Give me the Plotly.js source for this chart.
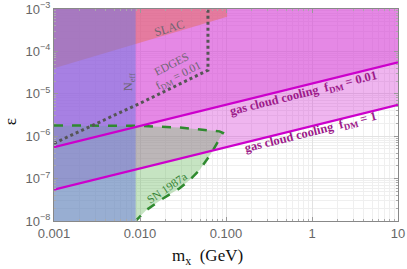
<!DOCTYPE html>
<html>
<head>
<meta charset="utf-8">
<script src="https://cdn.plot.ly/plotly-3.0.1.min.js"></script>
<style>html,body{margin:0;padding:0;background:#fff;}#plot{width:407px;height:269px;}</style>
</head>
<body>
<div id="plot"></div>
<script>
// ---- data (m_x in GeV, epsilon) ----
const gasMass = [0.001, 10];
const gasEpsF1 = [5.5e-8, 5.5e-6];
const gasEpsF001 = [5.5e-7, 5.5e-5];

const slacMass = [0.001, 0.0095, 0.103, 0.103, 0.001];
const slacEps = [4.0e-5, 1.55e-4, 6.6e-4, 1e-3, 1e-3];

const neffMass = [0.001, 0.0089, 0.0089, 0.001];
const neffEps = [1e-8, 1e-8, 1e-3, 1e-3];

const edgesMass = [0.001, 0.0104, 0.0617, 0.0617];
const edgesEps = [6.8e-7, 6.2e-6, 3.6e-5, 1e-3];

const snMass = [0.001, 0.01, 0.0287, 0.084, 0.092, 0.0676, 0.0494, 0.0378, 0.0289, 0.0185, 0.0118, 0.0091, 0.0089];
const snEps  = [1.8e-6, 1.75e-6, 1.6e-6, 1.3e-6, 1.2e-6, 4.0e-7, 1.6e-7, 9.3e-8, 5.9e-8, 3.4e-8, 1.8e-8, 1.05e-8, 1e-8];

const xTickVals = [0.001, 0.01, 0.1, 1, 10];
const xTickText = ['0.001', '0.010', '0.100', '1', '10'];
const yTickVals = [1e-8, 1e-7, 1e-6, 1e-5, 1e-4, 1e-3];
const yTickText = ['10<sup>−8</sup>', '10<sup>−7</sup>', '10<sup>−6</sup>', '10<sup>−5</sup>', '10<sup>−4</sup>', '10<sup>−3</sup>'];

// ---- build ----
const yTop = 1e-3, yBot = 1e-8, xLeft = 0.001, xRight = 10;
function minorVals(e0, e1) { const v = []; for (let e = e0; e < e1; e++) for (let k = 2; k <= 9; k++) v.push(k * Math.pow(10, e)); return v; }

const pink = 'rgba(215,70,215,0.40)';
const traces = [];
function fillTrace(xs, ys, color) {
  return {x: xs, y: ys, type: 'scatter', mode: 'none', fill: 'toself', fillcolor: color, hoverinfo: 'skip', showlegend: false};
}
traces.push(fillTrace(gasMass.concat([xRight, xLeft]), gasEpsF1.concat([yTop, yTop]), pink));
traces.push(fillTrace(gasMass.concat([xRight, xLeft]), gasEpsF001.concat([yTop, yTop]), pink));
traces.push(fillTrace(slacMass, slacEps, 'rgba(230,110,90,0.5)'));
traces.push(fillTrace([xLeft].concat(snMass), [yBot].concat(snEps), 'rgba(105,185,95,0.38)'));
traces.push(fillTrace(neffMass, neffEps, 'rgba(105,120,225,0.5)'));
traces.push({x: snMass.slice(0, snMass.length - 1), y: snEps.slice(0, snEps.length - 1), type: 'scatter', mode: 'lines', line: {color: '#2f8a2f', width: 2.5, dash: 'dash'}, hoverinfo: 'skip', showlegend: false});
traces.push({x: edgesMass, y: edgesEps, type: 'scatter', mode: 'lines', line: {color: '#555555', width: 3, dash: 'dot'}, hoverinfo: 'skip', showlegend: false});
traces.push({x: gasMass, y: gasEpsF001, type: 'scatter', mode: 'lines', line: {color: '#cc00cc', width: 2.2}, hoverinfo: 'skip', showlegend: false});
traces.push({x: gasMass, y: gasEpsF1, type: 'scatter', mode: 'lines', line: {color: '#cc00cc', width: 2.2}, hoverinfo: 'skip', showlegend: false});

const serif = 'Liberation Serif, Times New Roman, serif';
const grayText = '#6e6472';
const gasText = '#9c1a8a';
function ann(x, y, text, angle, size, color, bold) {
  return {x: x, y: y, xref: 'x', yref: 'y', text: bold ? '<b>' + text + '</b>' : text, textangle: angle, showarrow: false,
          font: {family: serif, size: size, color: color}};
}
const annotations = [
  ann(-1.655, -3.45, 'SLAC', -16.5, 12, grayText),
  ann(-2.121, -4.73, 'N<sub>eff</sub>', -90, 12, grayText),
  ann(-1.636, -4.30, 'EDGES', -27, 11.5, grayText),
  ann(-1.551, -4.58, 'f<sub>DM</sub> = 0.01', -27, 11.5, grayText),
  ann(-0.0955, -5.005, 'gas cloud cooling  f<sub>DM</sub> = 0.01', -14, 12.5, gasText, true),
  ann(-0.014, -5.925, 'gas cloud cooling  f<sub>DM</sub> = 1', -14, 12.5, gasText, true),
  ann(-1.69, -7.22, 'SN 1987a', -34, 11.5, '#358535'),
  {xref: 'paper', yref: 'paper', x: 0.447, y: -0.17, yanchor: 'middle', xanchor: 'center', text: 'm<sub>x</sub>  (GeV)', showarrow: false, font: {family: serif, size: 17, color: '#111'}},
  {xref: 'paper', yref: 'paper', x: -0.128, y: 0.47, xanchor: 'center', yanchor: 'middle', text: 'ε', textangle: -90, showarrow: false, font: {family: serif, size: 17, color: '#111'}}
];

const axisCommon = {
  type: 'log', showline: true, linecolor: '#888', linewidth: 1, mirror: 'ticks',
  ticks: 'inside', ticklen: 4, tickcolor: '#999', tickmode: 'array',
  showgrid: true, gridcolor: '#e2e2e2', gridwidth: 1, zeroline: false,
  tickfont: {family: 'Liberation Sans, Arial, sans-serif', size: 13, color: '#666'}
};
const layout = {
  width: 407, height: 269,
  margin: {l: 54, r: 9, t: 9, b: 48},
  paper_bgcolor: '#fff', plot_bgcolor: '#fff',
  showlegend: false,
  xaxis: Object.assign({}, axisCommon, {range: [-3, 1], tickvals: xTickVals, ticktext: xTickText,
    minor: {tickmode: 'array', tickvals: minorVals(-3, 1), showgrid: true, gridcolor: '#efefef', ticks: 'inside', ticklen: 2, tickcolor: '#aaa'}}),
  yaxis: Object.assign({}, axisCommon, {range: [-8, -3], tickvals: yTickVals, ticktext: yTickText,
    minor: {tickmode: 'array', tickvals: minorVals(-8, -3), showgrid: true, gridcolor: '#efefef', ticks: 'inside', ticklen: 2, tickcolor: '#aaa'}}),
  annotations: annotations
};
Plotly.newPlot('plot', traces, layout, {staticPlot: true, displayModeBar: false});
</script>
</body>
</html>
